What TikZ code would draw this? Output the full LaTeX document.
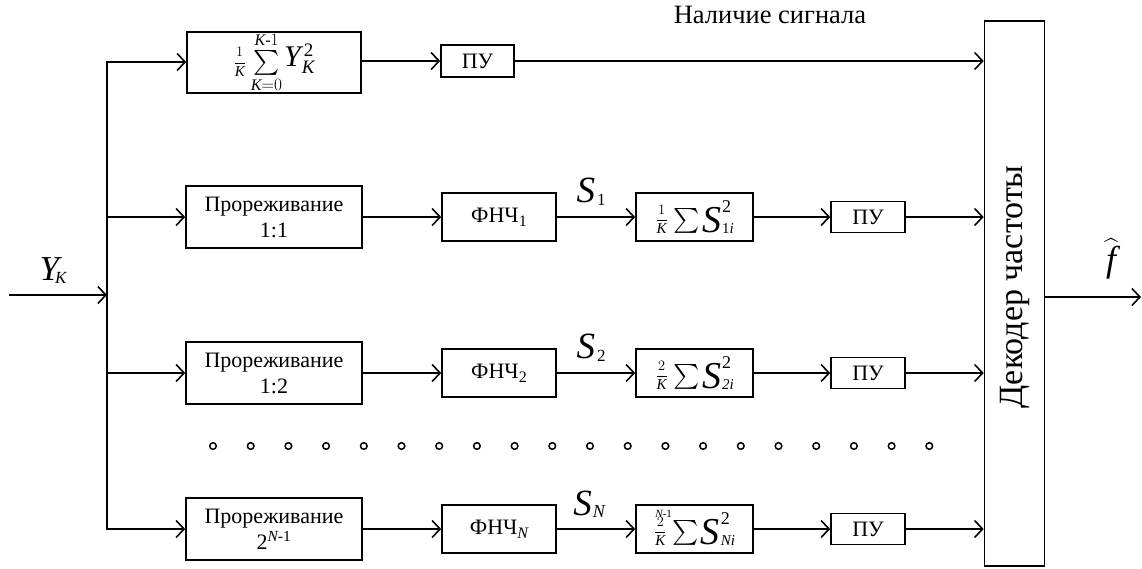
\documentclass[tikz,border=0pt]{standalone}
\usepackage{amsmath}
\usepackage{fontspec}
\setmainfont{Liberation Serif}
\usetikzlibrary{arrows.meta}
\newcommand\bxfont{\fontsize{22}{26}\selectfont}
\newcommand\mi[1]{\mathit{#1}}
% text at an explicit size
\newcommand\tx[2]{{\fontsize{#1}{#1}\selectfont#2}}
% small fraction n/K
\newcommand\fr[1]{\tx{15}{$\displaystyle\frac{#1}{\mi{K}}$}}
% accumulator formula: numerator, optional upper limit, subscript of S
\newcommand\accum[3]{%
  \raisebox{8.5pt}{\fr{#1}}\kern6pt%
  \raisebox{5pt}{#2\tx{25}{$\sum$}}\kern2pt%
  \tx{38}{\itshape S}\kern1pt%
  \rlap{\raisebox{20pt}{\tx{18}{2}}}\raisebox{-1pt}{\tx{15}{#3}}}
\begin{document}
\begin{tikzpicture}[x=1pt,y=-1pt,
  wire/.style={line width=1.6pt},
  sig/.style={wire,-{Straight Barb[length=8pt,width=17pt,line width=1.6pt]}},
  blk/.style={draw,line width=1.6pt,inner sep=0pt,font=\bxfont,align=center},
  thin/.style={blk,minimum width=176pt,minimum height=62pt},
  lpf/.style={blk,minimum width=114pt,minimum height=48pt},
  acc/.style={blk,minimum width=117pt,minimum height=48pt},
  thr/.style={blk,minimum width=74pt,minimum height=31pt},
  sname/.style={font=\fontsize{37}{40}\selectfont\itshape},
  dot/.style={line width=1.5pt}]
\useasboundingbox (0,0) rectangle (1142,568);

% decoder
\node[draw,line width=1.6pt,minimum width=60pt,minimum height=545pt,inner sep=0pt] (dec) at (1014.5,293.5) {};
\node[rotate=90,font=\fontsize{34}{36}\selectfont] (dectext) at (1014.5,287) {Декодер частоты};

% input and distribution bus
\coordinate (in) at (9,295);
\coordinate (b0) at (107,62);
\coordinate (b1) at (107,217);
\coordinate (b2) at (107,373);
\coordinate (b3) at (107,529);
\draw[sig] (in) -- (in -| b0);
\node[font=\fontsize{35}{38}\selectfont\itshape] (yk) at (53,271) {Y\kern-4pt\raisebox{-3pt}{\tx{17}{K}}};

% signal presence branch
\node[blk,minimum width=174pt,minimum height=61pt] (avg) at (274,62.5)
  {\raisebox{0pt}{\fr{1}}\kern5pt%
   \raisebox{-2.5pt}{\tx{23}{$\sum\limits_{\mi{K}=0}^{\mi{K}\text{-}1}$}}\kern2pt%
   \tx{30}{\itshape Y}\kern3pt%
   \rlap{\raisebox{10pt}{\tx{19}{2}}}\raisebox{-7pt}{\kern-2pt\tx{19}{\itshape K}}};
\node[blk,minimum width=73pt,minimum height=32pt] (pu0) at (477.5,61) {ПУ};
\node[font=\fontsize{26.5}{28}\selectfont] (presence) at (770,15) {Наличие сигнала};
\draw[sig] (b3) -- (b0) -- (avg.west |- b0);
\draw[sig] (avg.east |- pu0.west) -- (pu0.west);
\draw[sig] (pu0.east) -- (pu0.east -| dec.west);

% branch 1
\node[thin] (dec1) at (274,217) {Прореживание\\1:1};
\node[lpf] (lpf1) at (499,217) {ФНЧ\raisebox{-4pt}{\tx{16}{1}}};
\node[acc] (acc1) at (694.5,217) {\accum{1}{}{1\itshape i}};
\node[thr] (pu1) at (868,217) {ПУ};
\node[sname] (s1) at (591,192) {S\kern2pt\raisebox{-3pt}{\tx{17}{\upshape 1}}};
\draw[sig] (b1) -- (dec1.west);
\draw[sig] (dec1.east) -- (lpf1.west);
\draw[sig] (lpf1.east) -- (acc1.west);
\draw[sig] (acc1.east) -- (pu1.west);
\draw[sig] (pu1.east) -- (pu1.east -| dec.west);

% branch 2
\node[thin] (dec2) at (274,373) {Прореживание\\1:2};
\node[lpf] (lpf2) at (499,373) {ФНЧ\raisebox{-4pt}{\tx{16}{2}}};
\node[acc] (acc2) at (694.5,373) {\accum{2}{}{\itshape 2i}};
\node[thr] (pu2) at (868,373) {ПУ};
\node[sname] (s2) at (591,348) {S\kern2pt\raisebox{-3pt}{\tx{17}{\upshape 2}}};
\draw[sig] (b2) -- (dec2.west);
\draw[sig] (dec2.east) -- (lpf2.west);
\draw[sig] (lpf2.east) -- (acc2.west);
\draw[sig] (acc2.east) -- (pu2.west);
\draw[sig] (pu2.east) -- (pu2.east -| dec.west);

% omitted branches
\foreach \k in {0,...,19}
  \draw[dot] (213+37.7*\k,446) circle (3.3pt);

% branch N
\node[thin] (dec3) at (274,529) {Прореживание\\2\textsuperscript{\itshape N\upshape -1}};
\node[lpf] (lpf3) at (499,529) {ФНЧ\raisebox{-4pt}{\tx{16}{\itshape N}}};
\node[acc] (acc3) at (694.5,529)
  {\accum{2}{\smash{\rlap{\kern-17pt\raisebox{22pt}{\tx{11}{\itshape N\upshape -1}}}}}{\itshape Ni}};
\node[thr] (pu3) at (868,529) {ПУ};
\node[sname] (s3) at (589,504) {S\kern1pt\raisebox{-2pt}{\tx{18}{N}}};
\draw[sig] (b0) -- (b3) -- (dec3.west);
\draw[sig] (dec3.east) -- (lpf3.west);
\draw[sig] (lpf3.east) -- (acc3.west);
\draw[sig] (acc3.east) -- (pu3.west);
\draw[sig] (pu3.east) -- (pu3.east -| dec.west);

% output
\coordinate (out) at (1141,297);
\draw[sig] (out -| dec.east) -- (out);
\node[font=\fontsize{36}{38}\selectfont] (fhat) at (1111,259) {$\widehat{\mi{f}}$};
\end{tikzpicture}
\end{document}
